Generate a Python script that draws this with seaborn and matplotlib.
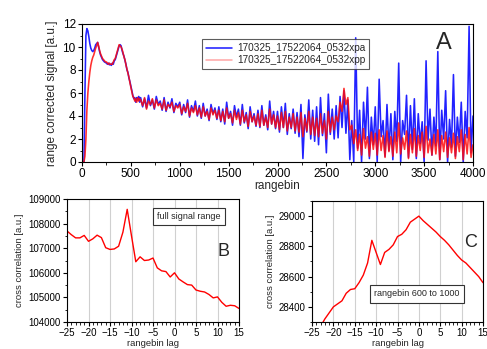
import numpy as np
import pandas as pd
import matplotlib
matplotlib.use("Agg")
import matplotlib.pyplot as plt
import seaborn as sns
from matplotlib.ticker import MultipleLocator

sns.set_theme(style="white")
plt.rcParams['font.family'] = ['Liberation Sans', 'DejaVu Sans']

# ---------------- data ----------------
# Panel A: rangebin positions (fine step for the first 600 bins, coarser afterwards)
rangebin_early = list(range(0, 600, 10))
rangebin_late = list(range(600, 4001, 20))

xpa_early = [0, 0, 0, 6.0, 11.0, 11.6, 11.4, 10.9, 10.3, 9.9,
             9.7, 9.6, 9.7, 9.9, 10.2, 10.3, 10.4, 10.0, 9.6, 9.3,
             9.1, 8.9, 8.8, 8.7, 8.65, 8.6, 8.5, 8.6, 8.45, 8.5,
             8.4, 8.6, 8.5, 8.8, 8.9, 9.2, 9.5, 9.8, 10.1, 10.2,
             10.1, 9.7, 9.4, 9.2, 8.8, 8.5, 8.0, 7.8, 7.3, 7.0,
             6.6, 6.2, 5.8, 5.5, 5.6, 5.2, 5.6, 5.4, 5.7, 5.2]
xpp_early = [0, 0, 0, 0.5, 2.0, 4.5, 6.0, 7.0, 7.8, 8.4,
             8.8, 9.1, 9.3, 9.6, 9.9, 10.1, 10.4, 10.1, 9.7, 9.4,
             9.2, 9.0, 8.9, 8.8, 8.7, 8.7, 8.6, 8.5, 8.6, 8.5,
             8.5, 8.5, 8.7, 8.9, 9.0, 9.3, 9.6, 9.9, 10.2, 10.1,
             10.0, 9.8, 9.5, 9.1, 8.9, 8.4, 8.1, 7.7, 7.4, 6.9,
             6.5, 6.1, 5.7, 5.6, 5.3, 5.5, 5.2, 5.6, 5.3, 5.5]

xpa_late = [5.6, 4.8, 5.5, 4.7, 5.8, 4.9, 5.4, 4.6, 5.7, 5.0,
            5.3, 4.5, 5.6, 4.4, 5.2, 4.7, 5.5, 4.3, 5.1, 4.8,
            5.2, 4.1, 5.0, 4.3, 5.4, 3.9, 4.9, 4.4, 5.3, 4.0,
            4.9, 3.8, 5.1, 4.0, 4.6, 3.6, 5.0, 4.2, 4.7, 3.7,
            4.8, 3.5, 4.6, 3.3, 5.2, 3.8, 4.4, 3.2, 4.9, 3.9,
            4.6, 3.2, 5.0, 3.4, 4.3, 2.9, 4.8, 3.5, 4.2, 3.1,
            4.5, 3.0, 4.9, 3.2, 4.1, 2.8, 5.3, 3.3, 4.4, 2.9,
            4.4, 2.6, 4.8, 3.0, 5.1, 2.4, 4.2, 2.9, 4.6, 2.5,
            4.3, 2.2, 5.0, 0.3, 4.1, 2.6, 5.4, 2.0, 4.5, 1.8,
            4.8, 1.5, 5.6, 2.3, 4.2, 0.8, 5.9, 2.4, 4.6, 2.0,
            4.9, 2.1, 5.7, 3.0, 6.2, 2.5, 5.4, 0.2, 3.6, 0.0,
            10.8, 1.2, 4.5, 0.0, 5.2, 2.0, 6.5, 0.3, 3.9, 1.5,
            4.8, 0.0, 7.2, 2.2, 3.6, 0.5, 5.0, 1.0, 4.2, 0.2,
            4.4, 1.8, 8.6, 0.0, 3.6, 2.4, 5.8, 0.4, 4.9, 1.1,
            5.5, 0.3, 4.2, 1.6, 3.5, 0.0, 8.8, 1.9, 4.6, 0.6,
            3.9, 1.4, 9.6, 0.2, 4.5, 2.0, 6.2, 0.0, 3.7, 1.3,
            7.6, 0.5, 3.9, 1.7, 5.2, 0.0, 4.4, 2.1, 11.8, 0.8,
            4.0]
xpp_late = [5.4, 4.9, 5.6, 4.6, 5.3, 5.0, 5.5, 4.7, 5.4, 4.9,
            5.1, 4.6, 5.4, 4.5, 5.0, 4.8, 5.2, 4.4, 4.9, 4.7,
            5.0, 4.2, 4.8, 4.4, 5.1, 4.0, 4.7, 4.3, 4.9, 4.1,
            4.7, 3.9, 4.8, 4.0, 4.4, 3.7, 4.7, 4.1, 4.5, 3.8,
            4.5, 3.6, 4.4, 3.5, 4.7, 3.8, 4.2, 3.4, 4.5, 3.7,
            4.3, 3.3, 4.5, 3.5, 4.1, 3.1, 4.4, 3.5, 4.0, 3.2,
            4.2, 3.1, 4.5, 3.2, 3.9, 3.0, 4.6, 3.3, 4.1, 3.0,
            4.0, 2.8, 4.3, 3.0, 4.4, 2.7, 3.9, 3.0, 4.2, 2.7,
            3.9, 2.6, 4.3, 2.2, 3.8, 2.7, 4.4, 2.4, 3.9, 2.3,
            3.8, 2.2, 4.2, 2.5, 3.6, 2.0, 4.4, 2.6, 3.9, 2.8,
            4.0, 3.5, 5.2, 4.4, 6.4, 5.0, 5.6, 2.8, 3.2, 1.6,
            2.8, 1.0, 2.4, 0.6, 2.9, 1.2, 2.2, 0.5, 2.6, 1.1,
            2.5, 0.6, 2.8, 1.0, 2.3, 0.4, 2.7, 0.9, 2.2, 0.5,
            2.6, 0.8, 3.4, 0.7, 2.1, 1.1, 2.7, 0.3, 2.4, 0.8,
            2.9, 0.5, 2.3, 1.0, 2.6, 0.4, 3.1, 0.8, 2.0, 0.6,
            2.4, 0.7, 2.8, 0.2, 2.3, 0.9, 2.6, 0.4, 2.1, 0.8,
            2.5, 0.3, 2.2, 0.9, 2.8, 0.2, 2.4, 0.7, 3.0, 0.4,
            1.5]

label_xpa = "170325_17522064_0532xpa"
label_xpp = "170325_17522064_0532xpp"

# Panels B and C: cross correlation vs. lag
lag = list(range(-25, 16))
cc_full = [107700, 107550, 107420, 107420, 107520, 107280, 107380, 107530, 107430, 107020,
           106950, 106970, 107080, 107650, 108580, 107500, 106450, 106650, 106500, 106520,
           106600, 106200, 106080, 106050, 105830, 106000, 105750, 105630, 105520, 105500,
           105300, 105250, 105220, 105120, 104980, 105020, 104800, 104640, 104680, 104660,
           104550]
cc_600_1000 = [28200, 28230, 28270, 28320, 28360, 28400, 28420, 28440, 28490, 28515,
               28520, 28560, 28610, 28690, 28840, 28760, 28680, 28760, 28780, 28810,
               28865, 28880, 28910, 28960, 28980, 29000, 28970, 28945, 28920, 28895,
               28865, 28840, 28810, 28775, 28740, 28710, 28690, 28660, 28630, 28600,
               28560]

# ---------------- figure ----------------
W, H = 487, 349
fig = plt.figure(figsize=(W / 100, H / 100), dpi=100)


def ax_at(l, t, r, b):
    return fig.add_axes([l / W, 1 - b / H, (r - l) / W, (b - t) / H])


def style_axes(ax, fs):
    for s in ax.spines.values():
        s.set_visible(True)
        s.set_color('black')
        s.set_linewidth(0.8)
    ax.tick_params(which='major', direction='out', length=3, width=0.8,
                   labelsize=fs, pad=1.5, bottom=True, left=True, colors='black')
    ax.tick_params(which='minor', direction='out', length=1.8, width=0.6,
                   bottom=True, left=True, colors='black')


# Panel A
axA = ax_at(82, 24, 473, 162)
dfA = pd.DataFrame({
    'rangebin': rangebin_early + rangebin_late + rangebin_early + rangebin_late,
    'signal': xpa_early + xpa_late + xpp_early + xpp_late,
    'series': [label_xpa] * (len(rangebin_early) + len(rangebin_late))
              + [label_xpp] * (len(rangebin_early) + len(rangebin_late)),
})
sns.lineplot(data=dfA[dfA.series == label_xpa], x='rangebin', y='signal', ax=axA,
             color='#0a0aff', lw=1.15, alpha=0.9, estimator=None, label=label_xpa)
sns.lineplot(data=dfA[dfA.series == label_xpp], x='rangebin', y='signal', ax=axA,
             color='#ff0a0a', lw=1.15, alpha=0.85, estimator=None, label=label_xpp)
axA.set_xlim(0, 4000)
axA.set_ylim(0, 12)
axA.xaxis.set_major_locator(MultipleLocator(500))
axA.xaxis.set_minor_locator(MultipleLocator(250))
axA.yaxis.set_major_locator(MultipleLocator(2))
axA.yaxis.set_minor_locator(MultipleLocator(1))
style_axes(axA, 8.5)
axA.set_xlabel('rangebin', fontsize=8.5, labelpad=0)
axA.set_ylabel('range corrected signal [a.u.]', fontsize=8.5, labelpad=3)
leg = axA.legend(loc='upper left', bbox_to_anchor=(115 / 391, 1 - 10 / 138),
                 fontsize=7.2, frameon=True, fancybox=False, handlelength=2.6,
                 borderpad=0.4, labelspacing=0.2, handletextpad=0.5)
leg.get_frame().set_edgecolor('#333333')
leg.get_frame().set_linewidth(0.8)
leg.get_lines()[1].set_alpha(0.35)
axA.text(0.925, 0.86, 'A', transform=axA.transAxes, fontsize=17, ha='center', va='center')

# Panel B
axB = ax_at(67, 199, 239, 322)
sns.lineplot(x=lag, y=cc_full, ax=axB, color='#ff0000', lw=1.0, estimator=None)
axB.set_xlim(-25, 15)
axB.set_ylim(104000, 109000)
axB.xaxis.set_major_locator(MultipleLocator(5))
axB.xaxis.set_minor_locator(MultipleLocator(1))
axB.yaxis.set_major_locator(MultipleLocator(1000))
axB.yaxis.set_minor_locator(MultipleLocator(500))
axB.grid(axis='x', which='major', color='#d0d0d0', lw=0.8)
style_axes(axB, 7)
axB.set_xlabel('rangebin lag', fontsize=6.8, labelpad=0.5)
axB.set_ylabel('cross correlation [a.u.]', fontsize=6.8, labelpad=3)
axB.text(0.71, 0.855, 'full signal range', transform=axB.transAxes, fontsize=6.5,
         ha='center', va='center',
         bbox=dict(boxstyle='square,pad=0.45', fc='white', ec='#333333', lw=0.8))
axB.text(0.91, 0.57, 'B', transform=axB.transAxes, fontsize=13, ha='center', va='center')

# Panel C
axC = ax_at(312, 201, 483, 322)
sns.lineplot(x=lag, y=cc_600_1000, ax=axC, color='#ff0000', lw=1.0, estimator=None)
axC.set_xlim(-25, 15)
axC.set_ylim(28300, 29100)
axC.xaxis.set_major_locator(MultipleLocator(5))
axC.xaxis.set_minor_locator(MultipleLocator(1))
axC.yaxis.set_major_locator(MultipleLocator(200))
axC.yaxis.set_minor_locator(MultipleLocator(100))
axC.grid(axis='x', which='major', color='#d0d0d0', lw=0.8)
style_axes(axC, 7)
axC.set_xlabel('rangebin lag', fontsize=6.8, labelpad=0.5)
axC.set_ylabel('cross correlation [a.u.]', fontsize=6.8, labelpad=3)
axC.text(0.615, 0.235, 'rangebin 600 to 1000', transform=axC.transAxes, fontsize=6.5,
         ha='center', va='center',
         bbox=dict(boxstyle='square,pad=0.5', fc='white', ec='#333333', lw=0.8))
axC.text(0.93, 0.66, 'C', transform=axC.transAxes, fontsize=13, ha='center', va='center')

fig.savefig('out.png', dpi=100, facecolor='white')
